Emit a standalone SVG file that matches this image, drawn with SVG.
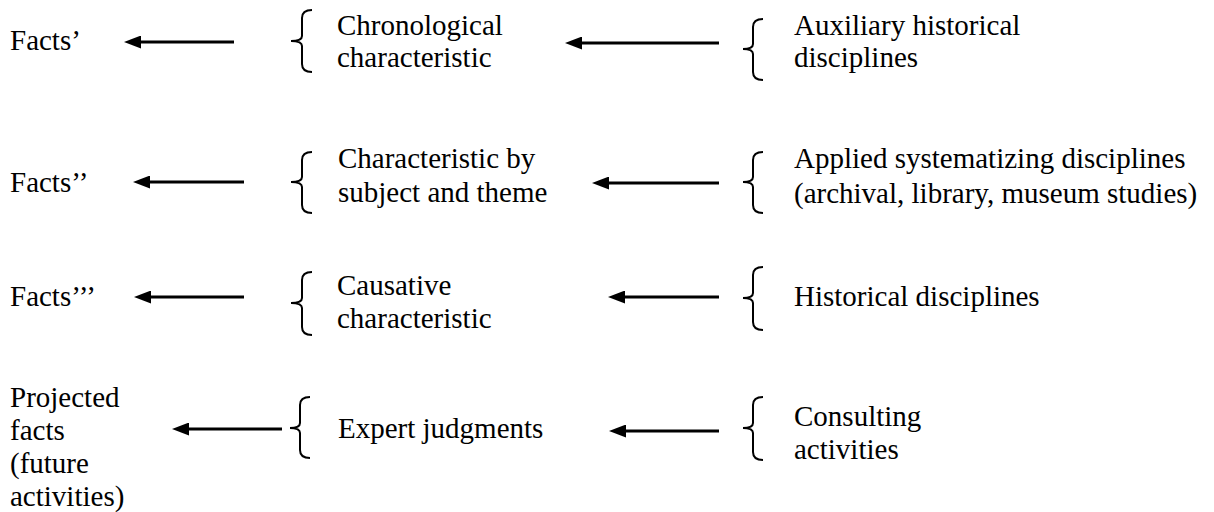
<svg xmlns="http://www.w3.org/2000/svg" width="1214" height="512" viewBox="0 0 1214 512">
<style>
text { font-family: 'Liberation Serif', 'Times New Roman', Times, 'DejaVu Serif', serif; font-size: 29px; fill: #000; }
.brace { fill: none; stroke: #000; stroke-width: 2; }
.arrow { stroke: #000; stroke-width: 3; fill: none; marker-end: url(#ah); }
</style>
<defs>
<marker id="ah" viewBox="0 0 17 13" refX="7" refY="6.5" markerWidth="17" markerHeight="13" markerUnits="userSpaceOnUse" orient="auto">
<path d="M0,0 L17,6.5 L0,13 z" fill="#000"/>
</marker>
</defs>
<rect width="1214" height="512" fill="#fff"/>

<g id="facts1"><text x="10" y="50" font-family="Liberation Serif, serif">Facts’</text></g>
<g id="facts2"><text x="10" y="192" font-family="Liberation Serif, serif">Facts’’</text></g>
<g id="facts3"><text x="10" y="306" font-family="Liberation Serif, serif">Facts’’’</text></g>
<g id="facts4" font-family="Liberation Serif, serif"><text x="10" y="407">Projected</text><text x="10" y="440">facts</text><text x="10" y="473">(future</text><text x="10" y="506">activities)</text></g>

<g id="chrono" font-family="Liberation Serif, serif">
<path class="brace" d="M312,10 Q302,10 302,18 L302,36 Q302,41 291,41 Q302,41 302,46 L302,64 Q302,72 312,72"/>
<text x="337" y="35">Chronological</text><text x="337" y="67">characteristic</text>
</g>
<g id="subject" font-family="Liberation Serif, serif">
<path class="brace" d="M312,152 Q302,152 302,160 L302,177 Q302,182 291,182 Q302,182 302,187 L302,205 Q302,213 312,213"/>
<text x="338" y="168">Characteristic by</text><text x="338" y="202">subject and theme</text>
</g>
<g id="causative" font-family="Liberation Serif, serif">
<path class="brace" d="M312,272 Q302,272 302,280 L302,298 Q302,303 291,303 Q302,303 302,308 L302,327 Q302,335 312,335"/>
<text x="337" y="295">Causative</text><text x="337" y="328">characteristic</text>
</g>
<g id="expert" font-family="Liberation Serif, serif">
<path class="brace" d="M310,397 Q300,397 300,405 L300,423 Q300,428 290,428 Q300,428 300,433 L300,450 Q300,458 310,458"/>
<text x="338" y="438">Expert judgments</text>
</g>

<g id="auxiliary" font-family="Liberation Serif, serif">
<path class="brace" d="M763,19 Q753,19 753,27 L753,44 Q753,49 743,49 Q753,49 753,54 L753,72 Q753,80 763,80"/>
<text x="794" y="35">Auxiliary historical</text><text x="794" y="67">disciplines</text>
</g>
<g id="applied" font-family="Liberation Serif, serif">
<path class="brace" d="M763,152 Q753,152 753,160 L753,177 Q753,182 743,182 Q753,182 753,187 L753,205 Q753,213 763,213"/>
<text x="794" y="168">Applied systematizing disciplines</text><text x="794" y="203">(archival, library, museum studies)</text>
</g>
<g id="historical" font-family="Liberation Serif, serif">
<path class="brace" d="M763,267 Q753,267 753,275 L753,293 Q753,298 743,298 Q753,298 753,303 L753,322 Q753,330 763,330"/>
<text x="794" y="306">Historical disciplines</text>
</g>
<g id="consulting" font-family="Liberation Serif, serif">
<path class="brace" d="M763,397 Q753,397 753,405 L753,423 Q753,428 743,428 Q753,428 753,433 L753,452 Q753,460 763,460"/>
<text x="794" y="426">Consulting</text><text x="794" y="459">activities</text>
</g>

<g id="connectors">
<line class="arrow" x1="234" y1="42" x2="134" y2="42"/>
<line class="arrow" x1="719" y1="43" x2="575" y2="43"/>
<line class="arrow" x1="244" y1="182" x2="143" y2="182"/>
<line class="arrow" x1="719" y1="183" x2="602" y2="183"/>
<line class="arrow" x1="244" y1="297" x2="144" y2="297"/>
<line class="arrow" x1="719" y1="297" x2="618" y2="297"/>
<line class="arrow" x1="282" y1="429" x2="182" y2="429"/>
<line class="arrow" x1="719" y1="431" x2="619" y2="431"/>
</g>
</svg>
